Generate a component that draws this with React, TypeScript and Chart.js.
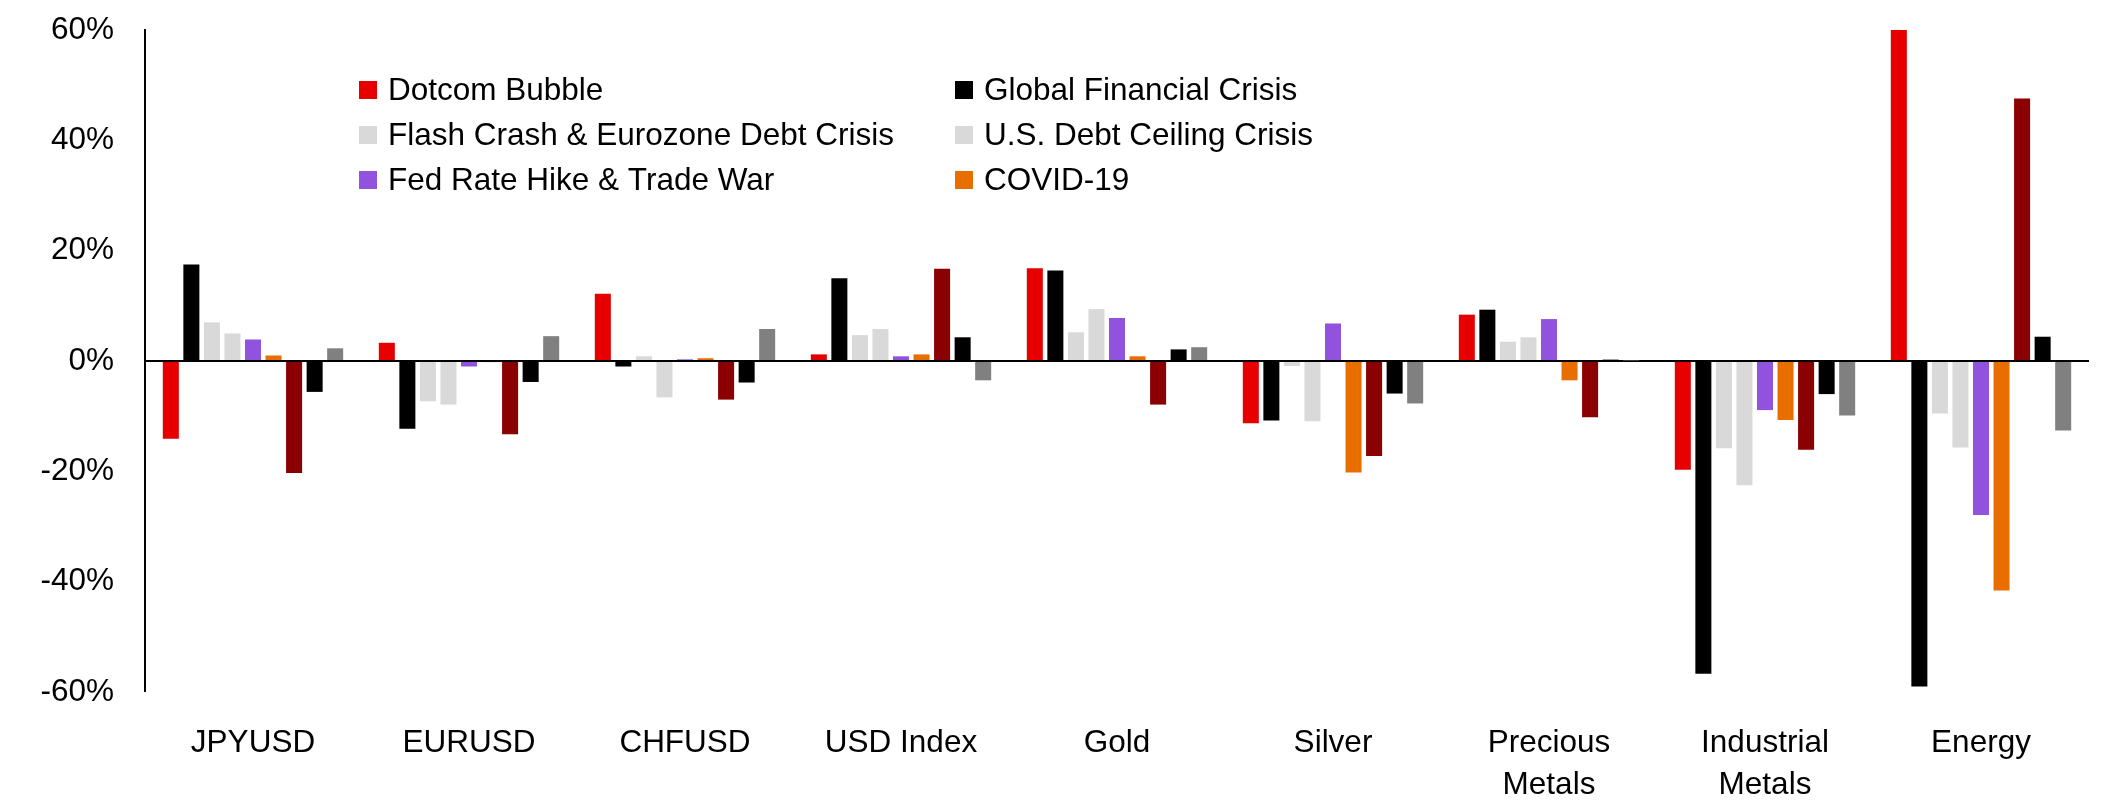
import React, { useEffect, useRef } from 'react';
import { Chart, registerables } from 'chart.js';

Chart.register(...registerables);

// ---- data ----
const categories: (string | string[])[] = [
  'JPYUSD',
  'EURUSD',
  'CHFUSD',
  'USD Index',
  'Gold',
  'Silver',
  ['Precious', 'Metals'],
  ['Industrial', 'Metals'],
  'Energy',
];

const seriesNames = [
  'Dotcom Bubble',
  'Global Financial Crisis',
  'Flash Crash & Eurozone Debt Crisis',
  'U.S. Debt Ceiling Crisis',
  'Fed Rate Hike & Trade War',
  'COVID-19',
  '',
  '',
  '',
];

const dotcomBubble = [-14.1, 3.3, 12.2, 1.2, 16.8, -11.3, 8.4, -19.7, 60];
const globalFinancialCrisis = [17.5, -12.3, -1.0, 15.0, 16.4, -10.8, 9.3, -56.7, -59.0];
const flashCrash = [7.0, -7.3, 0.85, 4.7, 5.2, -0.9, 3.5, -15.8, -9.5];
const debtCeiling = [5.0, -7.9, -6.6, 5.8, 9.4, -10.9, 4.3, -22.5, -15.7];
const fedHikeTradeWar = [3.9, -1.0, 0.3, 0.85, 7.8, 6.8, 7.6, -8.9, -27.9];
const covid19 = [1.0, -0.2, 0.5, 1.2, 0.85, -20.2, -3.5, -10.7, -41.6];
const seriesSeven = [-20.3, -13.3, -7.0, 16.7, -7.9, -17.2, -10.2, -16.1, 47.6];
const seriesEight = [-5.6, -3.8, -3.9, 4.3, 2.1, -5.9, 0.25, -6.0, 4.4];
const seriesNine = [2.3, 4.5, 5.8, -3.5, 2.5, -7.7, 0.1, -9.9, -12.6];

const seriesValues = [
  dotcomBubble,
  globalFinancialCrisis,
  flashCrash,
  debtCeiling,
  fedHikeTradeWar,
  covid19,
  seriesSeven,
  seriesEight,
  seriesNine,
];

const seriesColors = [
  '#E60000',
  '#000000',
  '#D9D9D9',
  '#D9D9D9',
  '#9152DE',
  '#E86E00',
  '#8B0000',
  '#000000',
  '#808080',
];

const yMin = -60;
const yMax = 60;
const yStep = 20;

// ---- styles ----
const FONT_FAMILY = '"Liberation Sans", Arial, sans-serif';
const FONT_SIZE = 31.5;
const TEXT_COLOR = '#000000';

const legendColumnsX = [359, 955];
const legendRowsY = [90, 135, 180];
const legendBox = 18;
const legendTextGap = 11;

const legendPlugin = {
  id: 'columnLegend',
  afterDraw(chart: any) {
    const ctx = chart.ctx as CanvasRenderingContext2D;
    ctx.save();
    ctx.font = `${FONT_SIZE}px ${FONT_FAMILY}`;
    ctx.textBaseline = 'middle';
    ctx.textAlign = 'left';
    const datasets = chart.data.datasets;
    let k = 0;
    datasets.forEach((ds: any) => {
      if (!ds.label) return;
      const col = k % 2;
      const row = Math.floor(k / 2);
      const x = legendColumnsX[col];
      const y = legendRowsY[row];
      ctx.fillStyle = ds.backgroundColor;
      ctx.fillRect(x, y - legendBox / 2, legendBox, legendBox);
      ctx.fillStyle = TEXT_COLOR;
      ctx.fillText(ds.label, x + legendBox + legendTextGap, y + 1);
      k++;
    });
    ctx.restore();
  },
};

export default function App() {
  const canvasRef = useRef<HTMLCanvasElement | null>(null);

  useEffect(() => {
    if (!canvasRef.current) return;
    const chart = new Chart(canvasRef.current, {
      type: 'bar',
      data: {
        labels: categories,
        datasets: seriesValues.map((vals, i) => ({
          label: seriesNames[i],
          data: vals,
          backgroundColor: seriesColors[i],
          borderWidth: 0,
          categoryPercentage: 0.856,
          barPercentage: 0.78,
        })),
      },
      options: {
        animation: false,
        responsive: false,
        devicePixelRatio: 1,
        layout: { padding: { top: 30, right: 14, left: 0, bottom: 0 } },
        plugins: {
          legend: { display: false },
          tooltip: { enabled: false },
        },
        scales: {
          x: {
            grid: { display: false },
            border: { display: false },
            ticks: {
              color: TEXT_COLOR,
              font: { family: FONT_FAMILY, size: FONT_SIZE, lineHeight: '42px' },
              padding: 22,
              maxRotation: 0,
              minRotation: 0,
              autoSkip: false,
            },
            afterFit(scale: any) {
              scale.height = 118;
            },
          },
          y: {
            min: yMin,
            max: yMax,
            z: 1,
            border: { display: true, color: '#000000', width: 2 },
            grid: {
              drawTicks: false,
              color: (c: any) => (c.tick && c.tick.value === 0 ? '#000000' : 'rgba(0,0,0,0)'),
              lineWidth: (c: any) => (c.tick && c.tick.value === 0 ? 2 : 0),
            },
            ticks: {
              stepSize: yStep,
              color: TEXT_COLOR,
              font: { family: FONT_FAMILY, size: FONT_SIZE },
              padding: 31,
              callback: (v: any) => `${v}%`,
            },
            afterFit(scale: any) {
              scale.width = 145;
              scale.paddingTop = 0;
              scale.paddingBottom = 0;
            },
          },
        },
      },
      plugins: [legendPlugin],
    });
    return () => chart.destroy();
  }, []);

  return (
    <div style={{ position: 'fixed', left: 0, top: 0, width: 2103, height: 810, background: '#ffffff' }}>
      <canvas ref={canvasRef} width={2103} height={810} style={{ width: 2103, height: 810, display: 'block' }} />
    </div>
  );
}
